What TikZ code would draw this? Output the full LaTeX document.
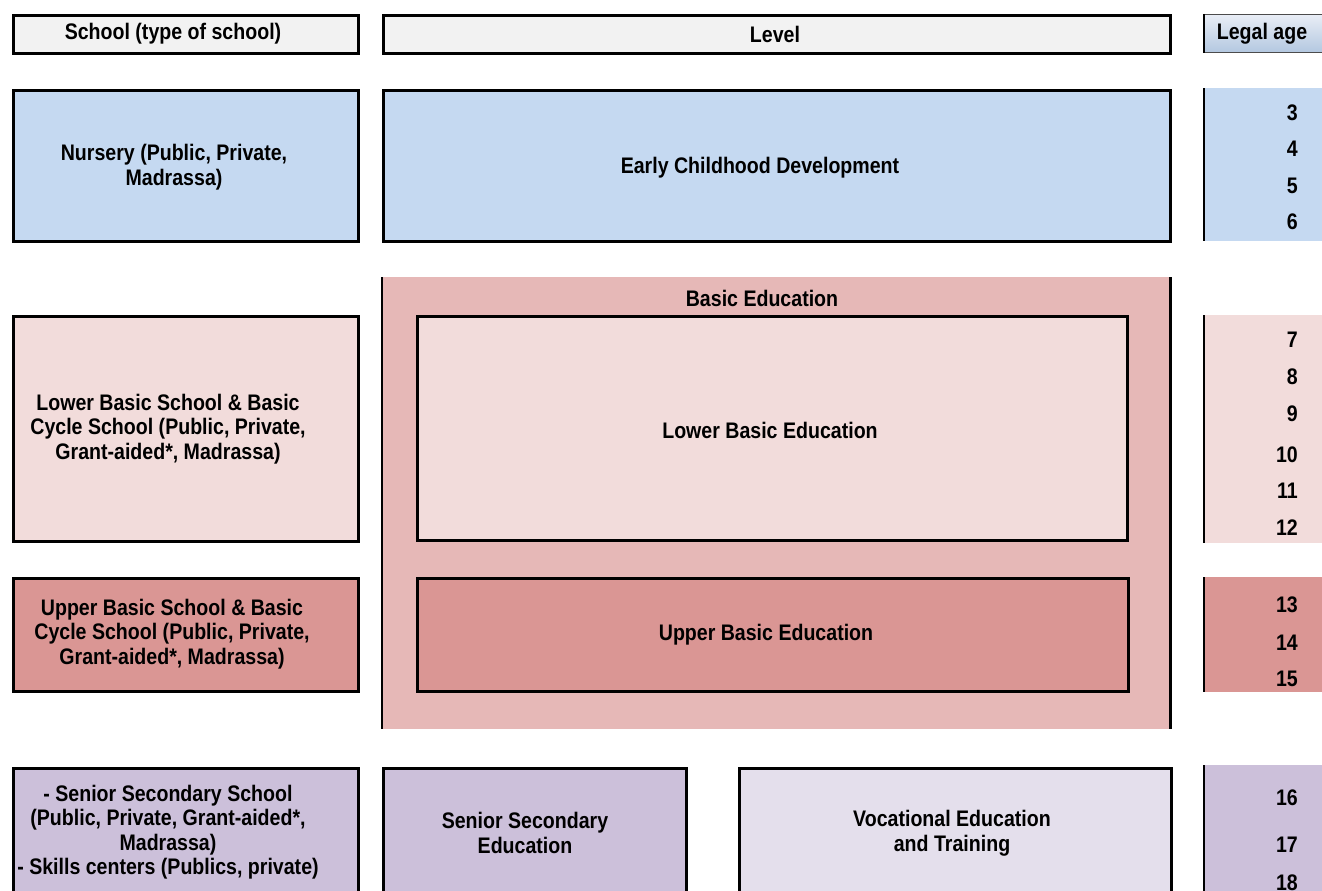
\documentclass[tikz,border=0pt]{standalone}
\usepackage{fontspec}
\setmainfont{Liberation Sans}[FakeStretch=0.87]
\definecolor{headgray}{HTML}{F2F2F2}
\definecolor{cblue}{HTML}{C5D9F1}
\definecolor{pinkL}{HTML}{F2DCDB}
\definecolor{pinkM}{HTML}{E6B8B7}
\definecolor{pinkD}{HTML}{DA9694}
\definecolor{purp}{HTML}{CCC0DA}
\definecolor{purpL}{HTML}{E4DFEC}
\definecolor{agetop}{HTML}{E9EEF6}
\definecolor{agebot}{HTML}{B3C7E0}
\begin{document}
\begin{tikzpicture}[x=1pt,y=-1pt,
  every node/.style={font=\bfseries\fontsize{22.5}{24.5}\selectfont, inner sep=0pt, align=center},
  box/.style={draw, line width=3.2pt, anchor=north west, inner sep=0pt},
  innerbox/.style={draw, line width=2.7pt, anchor=north west, inner sep=0pt},
  fillbox/.style={anchor=north west, inner sep=0pt},
  edge/.style={line width=2.8pt}]
\useasboundingbox (0,0) rectangle (1322,891);
\begin{scope}
\clip (0,0) rectangle (1322,891);
% header row
\node[box, fill=headgray, minimum width=345pt, minimum height=38pt] (schoolH) at (12,14) {};
\node[box, fill=headgray, minimum width=787pt, minimum height=38pt] (levelH) at (382,14) {};
\node[fillbox, top color=agetop, bottom color=agebot, draw=black!70, line width=1pt, minimum width=130pt, minimum height=38pt] (ageH) at (1204,14) {};
\draw[edge] (ageH.north west) -- (ageH.south west);
\node (tSchoolH) at (173,34) {School (type of school)};
\node (tLevelH) at (775,34) {Level};
\node (tAgeH) at (1262,34) {Legal age};
% nursery row
\node[box, fill=cblue, minimum width=345pt, minimum height=151pt] (nursery) at (12,89) {};
\node[box, fill=cblue, minimum width=787pt, minimum height=151pt] (ecd) at (382,89) {};
\node[fillbox, fill=cblue, minimum width=130pt, minimum height=153pt] (ageN) at (1204,88) {};
\draw[edge] (ageN.north west) -- (ageN.south west);
\node (tNursery) at (174,167) {Nursery (Public, Private,\\Madrassa)};
\node (tEcd) at (760,168) {Early Childhood Development};
\node[anchor=east] (a3) at (1298,113) {3};
\node[anchor=east] (a4) at (1298,149) {4};
\node[anchor=east] (a5) at (1298,186) {5};
\node[anchor=east] (a6) at (1298,222) {6};
% basic education outer
\node[fillbox, fill=pinkM, minimum width=788pt, minimum height=452pt] (basic) at (382,277) {};
\draw[edge] (basic.north west) -- (basic.south west);
\draw[edge] (basic.north east) -- (basic.south east);
\node (tBasic) at (762,298) {Basic Education};
% lower basic row
\node[box, fill=pinkL, minimum width=345pt, minimum height=225pt] (lbs) at (12,315) {};
\node[innerbox, fill=pinkL, minimum width=710pt, minimum height=224pt] (lbe) at (416,315) {};
\node[fillbox, fill=pinkL, minimum width=130pt, minimum height=228pt] (ageL) at (1204,315) {};
\draw[edge] (ageL.north west) -- (ageL.south west);
\node (tLbs) at (168,429) {Lower Basic School \& Basic\\Cycle School (Public, Private,\\Grant-aided*, Madrassa)};
\node (tLbe) at (770,430) {Lower Basic Education};
\node[anchor=east] (a7) at (1298,340) {7};
\node[anchor=east] (a8) at (1298,377) {8};
\node[anchor=east] (a9) at (1298,414) {9};
\node[anchor=east] (a10) at (1298,455) {10};
\node[anchor=east] (a11) at (1298,491) {11};
\node[anchor=east] (a12) at (1298,528) {12};
% upper basic row
\node[box, fill=pinkD, minimum width=345pt, minimum height=113pt] (ubs) at (12,577) {};
\node[innerbox, fill=pinkD, minimum width=711pt, minimum height=113pt] (ube) at (416,577) {};
\node[fillbox, fill=pinkD, minimum width=130pt, minimum height=115pt] (ageU) at (1204,577) {};
\draw[edge] (ageU.north west) -- (ageU.south west);
\node (tUbs) at (172,634) {Upper Basic School \& Basic\\Cycle School (Public, Private,\\Grant-aided*, Madrassa)};
\node (tUbe) at (766,635) {Upper Basic Education};
\node[anchor=east] (a13) at (1298,605) {13};
\node[anchor=east] (a14) at (1298,643) {14};
\node[anchor=east] (a15) at (1298,679) {15};
% senior row
\node[box, fill=purp, minimum width=345pt, minimum height=160pt] (sss) at (12,767) {};
\node[box, fill=purp, minimum width=303pt, minimum height=160pt] (sse) at (382,767) {};
\node[box, fill=purpL, minimum width=432pt, minimum height=160pt] (vet) at (738,767) {};
\node[fillbox, fill=purp, minimum width=130pt, minimum height=160pt] (ageS) at (1204,765) {};
\draw[edge] (ageS.north west) -- (ageS.south west);
\node (tSss) at (168,832) {- Senior Secondary School\\(Public, Private, Grant-aided*,\\Madrassa)\\- Skills centers (Publics, private)};
\node (tSse) at (525,833) {Senior Secondary\\Education};
\node (tVet) at (952,833) {Vocational Education\\and Training};
\node[anchor=east] (a16) at (1298,798) {16};
\node[anchor=east] (a17) at (1298,845) {17};
\node[anchor=east] (a18) at (1298,883) {18};
\end{scope}
\end{tikzpicture}
\end{document}
